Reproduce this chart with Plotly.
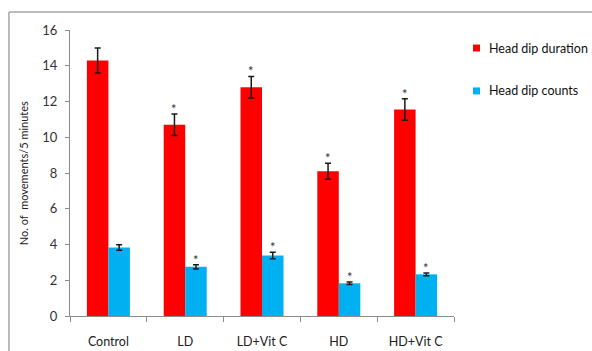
import plotly.graph_objects as go

groups = ["Control", "LD", "LD+Vit C", "HD", "HD+Vit C"]
duration = [14.3, 10.7, 12.8, 8.1, 11.55]
duration_err = [0.7, 0.6, 0.6, 0.45, 0.6]
counts = [3.83, 2.75, 3.38, 1.83, 2.33]
counts_err = [0.15, 0.12, 0.18, 0.07, 0.08]
duration_sig = ["", "*", "*", "*", "*"]
counts_sig = ["", "*", "*", "*", "*"]
series_names = ["Head dip duration", "Head dip counts"]

RED = "#ff0000"
BLUE = "#00b0f0"
FONT = "Lato, Carlito, Arial, sans-serif"

fig = go.Figure()
fig.add_trace(go.Bar(
    name=series_names[0], x=groups, y=duration, marker_color=RED,
    marker_line_width=0,
    error_y=dict(type="data", array=duration_err, color="#1a1a1a",
                 thickness=1.5, width=3),
))
fig.add_trace(go.Bar(
    name=series_names[1], x=groups, y=counts, marker_color=BLUE,
    marker_line_width=0,
    error_y=dict(type="data", array=counts_err, color="#1a1a1a",
                 thickness=1.5, width=3),
))

# significance marks above the error bars
half = 10.75
for g, v, e, s in zip(groups, duration, duration_err, duration_sig):
    if s:
        fig.add_annotation(x=g, y=v + e, text=s, showarrow=False, xshift=-half,
                           yshift=5, yanchor="middle",
                           font=dict(size=13, color="#333333", family=FONT))
for g, v, e, s in zip(groups, counts, counts_err, counts_sig):
    if s:
        fig.add_annotation(x=g, y=v + e, text=s, showarrow=False, xshift=half,
                           yshift=5, yanchor="middle",
                           font=dict(size=13, color="#333333", family=FONT))

# y-axis title
fig.add_annotation(x=-0.122, y=0.5, xref="paper", yref="paper",
                   xanchor="center", yanchor="middle",
                   text="No. of  movements/5 minutes", textangle=-90,
                   showarrow=False, font=dict(size=11, color="#222222", family=FONT))

# compact legend: small swatches with labels to the right
legend_rows = [(0.937, RED), (0.787, BLUE)]
for name, (yc, col) in zip(series_names, legend_rows):
    fig.add_shape(type="rect", xref="paper", yref="paper",
                  x0=1.0495, x1=1.0677, y0=yc - 0.0122, y1=yc + 0.0122,
                  fillcolor=col, line=dict(width=0))
    fig.add_annotation(x=1.0859, y=yc, xref="paper", yref="paper",
                       xanchor="left", yanchor="middle", text=name,
                       showarrow=False,
                       font=dict(size=12.5, color="#111111", family=FONT))

# outer frame
fig.add_shape(type="line", xref="paper", yref="paper", x0=-0.159, x1=1.5,
              y0=1.063, y1=1.063, line=dict(color="#a6a6a6", width=1.5))
fig.add_shape(type="line", xref="paper", yref="paper", x0=-0.159, x1=-0.159,
              y0=-0.3, y1=1.063, line=dict(color="#a6a6a6", width=1.5))

fig.update_layout(
    width=592, height=351,
    margin=dict(l=70, r=138, t=30, b=35, autoexpand=False),
    paper_bgcolor="white", plot_bgcolor="white",
    barmode="group", bargap=0.44, bargroupgap=0,
    showlegend=False,
    font=dict(family=FONT, size=12, color="#333333"),
    xaxis=dict(showline=True, linecolor="#8c8c8c", linewidth=1,
               ticks="outside", tickson="boundaries", ticklen=5,
               tickcolor="#8c8c8c", ticklabelstandoff=14, automargin=False,
               tickfont=dict(size=12.5, color="#222222")),
    yaxis=dict(range=[0, 16], dtick=2, showline=True, linecolor="#8c8c8c",
               linewidth=1, ticks="outside", ticklen=4, tickcolor="#8c8c8c",
               showgrid=False, zeroline=False, ticklabelstandoff=5,
               automargin=False,
               tickfont=dict(size=13, color="#333333")),
)

fig.write_html("out.html")
